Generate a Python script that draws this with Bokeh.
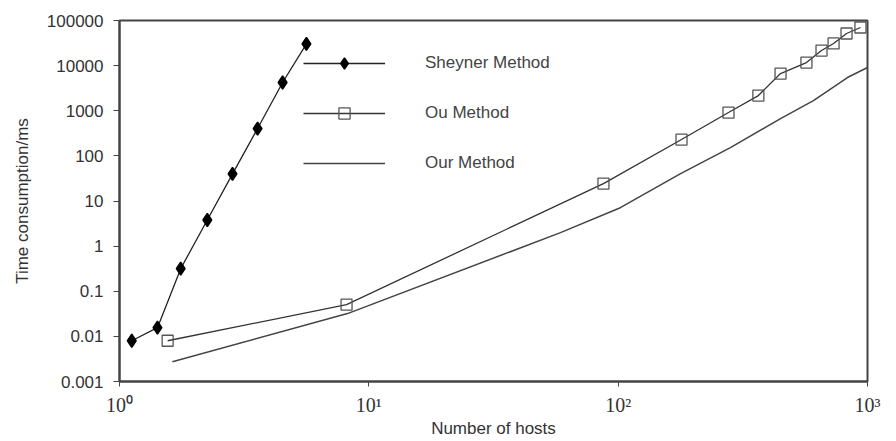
from bokeh.plotting import figure
from bokeh.models import FixedTicker, CustomJSTickFormatter, Legend, LegendItem
from bokeh.embed import file_html
from bokeh.resources import INLINE

# ---- data ----
sheyner_x = [1.12, 1.42, 1.76, 2.25, 2.84, 3.58, 4.51, 5.62]
sheyner_y = [0.008, 0.0156, 0.317, 3.8, 40, 403, 4220, 30400]

ou_x = [1.56, 8.14, 87.3, 179.5, 277, 365, 448, 569, 654, 731, 824, 937]
ou_y = [0.008, 0.0505, 24.3, 230, 912, 2170, 6680, 11700, 21600, 31000, 51500, 70000]

our_x = [1.63, 8.21, 58.7, 102, 178, 282, 448, 607, 831, 1000]
our_y = [0.00275, 0.032, 1.99, 7.1, 40.5, 153, 671, 1684, 5450, 9080]

x_ticks = [1, 10, 100, 1000]
x_tick_labels = ["10\u2070", "10\u00b9", "10\u00b2", "10\u00b3"]
y_ticks = [0.001, 0.01, 0.1, 1, 10, 100, 1000, 10000, 100000]
y_tick_labels = ["0.001", "0.01", "0.1", "1", "10", "100", "1000", "10000", "100000"]

series_names = ["Sheyner Method", "Ou Method", "Our Method"]

SANS = "Liberation Sans"
SERIF = "Liberation Serif"

p = figure(width=894, height=440, x_axis_type="log", y_axis_type="log",
           x_range=(1, 1000), y_range=(0.001, 100000),
           output_backend="svg", toolbar_location=None,
           min_border_left=119, min_border_right=27,
           min_border_top=20, min_border_bottom=59)

p.xgrid.visible = False
p.ygrid.visible = False
p.outline_line_color = "#444444"
p.outline_line_width = 2
p.background_fill_color = "white"
p.border_fill_color = "white"

fmt_code = """
let best = 0, bd = Infinity;
for (let i = 0; i < tv.length; i++) {
  const d = Math.abs(Math.log10(tick) - Math.log10(tv[i]));
  if (d < bd) { bd = d; best = i; }
}
return lab[best];
"""

xa = p.xaxis[0]
xa.ticker = FixedTicker(ticks=x_ticks)
xa.formatter = CustomJSTickFormatter(args=dict(tv=x_ticks, lab=x_tick_labels), code=fmt_code)
xa.axis_label = "Number of hosts"
xa.axis_label_text_font = SANS
xa.axis_label_text_font_size = "17px"
xa.axis_label_text_font_style = "normal"
xa.axis_label_text_color = "#333333"
xa.axis_label_standoff = 0
xa.major_label_text_font = SERIF
xa.major_label_text_font_size = "20px"
xa.major_label_text_color = "#333333"
xa.major_label_standoff = 7
xa.major_tick_out = 5
xa.major_tick_in = 0
xa.minor_tick_line_color = None
xa.axis_line_color = "#444444"
xa.axis_line_width = 2
xa.major_tick_line_color = "#444444"

ya = p.yaxis[0]
ya.ticker = FixedTicker(ticks=y_ticks)
ya.formatter = CustomJSTickFormatter(args=dict(tv=y_ticks, lab=y_tick_labels), code=fmt_code)
ya.axis_label = "Time consumption/ms"
ya.axis_label_text_font = SANS
ya.axis_label_text_font_size = "17px"
ya.axis_label_text_font_style = "normal"
ya.axis_label_text_color = "#333333"
ya.axis_label_standoff = 12
ya.major_label_text_font = SANS
ya.major_label_text_font_size = "17px"
ya.major_label_text_color = "#333333"
ya.major_label_standoff = 10
ya.major_tick_out = 6
ya.major_tick_in = 0
ya.minor_tick_line_color = None
ya.axis_line_color = "#444444"
ya.axis_line_width = 2
ya.major_tick_line_color = "#444444"

# Sheyner
r1l = p.line(sheyner_x, sheyner_y, line_color="#222222", line_width=1.3)
r1m = p.scatter(sheyner_x, sheyner_y, marker="diamond", size=13,
                fill_color="black", line_color="black", line_width=1.5)
# Ou
r2l = p.line(ou_x, ou_y, line_color="#333333", line_width=1.3)
r2m = p.scatter(ou_x, ou_y, marker="square", size=11, fill_color=None,
                line_color="#555555", line_width=1.3)
# Our
r3l = p.line(our_x, our_y, line_color="#444444", line_width=1.5)

legend = Legend(items=[
    LegendItem(label=series_names[0], renderers=[r1l, r1m]),
    LegendItem(label=series_names[1], renderers=[r2l, r2m]),
    LegendItem(label=series_names[2], renderers=[r3l]),
], location=(184, 204))
legend.glyph_width = 82
legend.glyph_height = 28
legend.label_height = 28
legend.spacing = 22
legend.label_standoff = 40
legend.padding = 0
legend.margin = 0
legend.border_line_color = None
legend.background_fill_alpha = 0
legend.label_text_font = SANS
legend.label_text_font_size = "17px"
legend.label_text_color = "#444444"
p.add_layout(legend, "center")

open("out.html", "w").write(file_html(p, INLINE))
